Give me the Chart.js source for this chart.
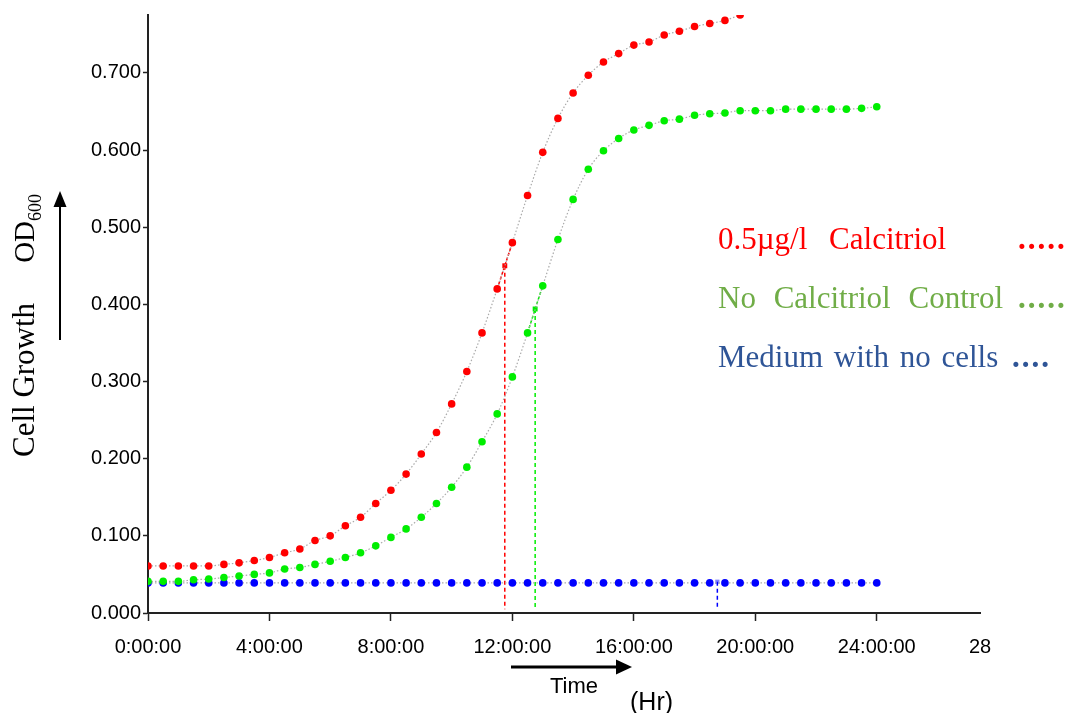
<!DOCTYPE html>
<html>
<head>
<meta charset="utf-8">
<script src="https://cdn.jsdelivr.net/npm/chart.js@4.4.1/dist/chart.umd.min.js"></script>
<style>
  body { margin: 0; background: #fff; }
  #wrap { position: relative; width: 1070px; height: 713px; }
  .lbl { position: absolute; white-space: nowrap; line-height: 30px; }
  .serif { font-family: "Liberation Serif", "Times New Roman", serif; font-size: 31px; }
  .sans { font-family: "Liberation Sans", Arial, sans-serif; }
  .dots { font-weight: bold; letter-spacing: 2px; }
</style>
</head>
<body>
<div id="wrap">
  <canvas id="chart" width="1070" height="713"></canvas>

  <div class="lbl serif" style="left:9px; top:457px; transform:rotate(-90deg); transform-origin:0 0;">
    Cell Growth<span style="margin-left:40px; font-size:29px">OD<sub style="font-size:18px">600</sub></span>
  </div>

  <div class="lbl serif" style="left:718px; top:224px; color:#ff0000; word-spacing:14px;">0.5µg/l Calcitriol</div>
  <div class="lbl serif dots" style="left:1018px; top:224px; color:#ff0000;">.....</div>
  <div class="lbl serif" style="left:718px; top:283px; color:#70ad47; word-spacing:10px;">No Calcitriol Control</div>
  <div class="lbl serif dots" style="left:1018px; top:283px; color:#70ad47;">.....</div>
  <div class="lbl serif" style="left:718px; top:342px; color:#2f5597; word-spacing:3px;">Medium with no cells</div>
  <div class="lbl serif dots" style="left:1012px; top:342px; color:#2f5597;">....</div>

  <div class="lbl sans" style="left:550px; top:671px; font-size:22px;">Time</div>
  <div class="lbl sans" style="left:630px; top:686px; font-size:25px;">(Hr)</div>
</div>

<script>
// time points (hours)
const hours = [0, 0.5, 1, 1.5, 2, 2.5, 3, 3.5, 4, 4.5, 5, 5.5, 6, 6.5, 7, 7.5, 8, 8.5, 9, 9.5,
  10, 10.5, 11, 11.5, 12, 12.5, 13, 13.5, 14, 14.5, 15, 15.5, 16, 16.5, 17, 17.5, 18, 18.5, 19, 19.5,
  20, 20.5, 21, 21.5, 22, 22.5, 23, 23.5, 24];

// OD600 readings
const calcitriolOD = [0.061, 0.061, 0.061, 0.061, 0.061, 0.063, 0.065, 0.068, 0.072, 0.078,
  0.083, 0.094, 0.100, 0.113, 0.124, 0.142, 0.159, 0.180, 0.206, 0.234,
  0.271, 0.313, 0.363, 0.420, 0.480, 0.541, 0.597, 0.641, 0.674, 0.697,
  0.714, 0.725, 0.736, 0.740, 0.749, 0.754, 0.760, 0.764, 0.768, 0.775];

const controlOD = [0.041, 0.041, 0.041, 0.043, 0.044, 0.046, 0.048, 0.050, 0.052, 0.057,
  0.059, 0.063, 0.067, 0.072, 0.078, 0.087, 0.098, 0.109, 0.124, 0.142,
  0.163, 0.189, 0.222, 0.258, 0.306, 0.363, 0.424, 0.484, 0.536, 0.575,
  0.599, 0.615, 0.626, 0.632, 0.638, 0.640, 0.645, 0.647, 0.648, 0.651,
  0.651, 0.651, 0.653, 0.653, 0.653, 0.653, 0.653, 0.654, 0.656];

const mediumOD = [0.039, 0.039, 0.039, 0.039, 0.039, 0.039, 0.039, 0.039, 0.039, 0.039,
  0.039, 0.039, 0.039, 0.039, 0.039, 0.039, 0.039, 0.039, 0.039, 0.039,
  0.039, 0.039, 0.039, 0.039, 0.039, 0.039, 0.039, 0.039, 0.039, 0.039,
  0.039, 0.039, 0.039, 0.039, 0.039, 0.039, 0.039, 0.039, 0.039, 0.039,
  0.039, 0.039, 0.039, 0.039, 0.039, 0.039, 0.039, 0.039, 0.039];

// half-max markers (time, OD)
const markerHours = [11.75, 12.75, 18.75];
const markerOD = [0.450, 0.394, 0.0405];
const markerColors = ["#ff0000", "#00ee00", "#0000ff"];

const xTickValues = [0, 4, 8, 12, 16, 20, 24, 27.4];
const xTickLabels = ["0:00:00", "4:00:00", "8:00:00", "12:00:00", "16:00:00", "20:00:00", "24:00:00", "28"];
const yTickValues = [0, 0.1, 0.2, 0.3, 0.4, 0.5, 0.6, 0.7];

const toPoints = (ys) => ys.map((y, i) => ({ x: hours[i], y: y }));

const seriesStyle = (color) => ({
  borderColor: "#aaaaaa",
  borderWidth: 1.2,
  borderDash: [1.5, 2],
  cubicInterpolationMode: "monotone",
  pointRadius: 3.8,
  pointHoverRadius: 3.8,
  pointBackgroundColor: color,
  pointBorderWidth: 0,
  showLine: true,
});

const datasets = [];

// drop lines from each marker down to the axis
markerHours.forEach((t, i) => {
  datasets.push({
    data: [{ x: t, y: markerOD[i] }, { x: t, y: 0.005 }],
    borderColor: markerColors[i],
    borderWidth: 1.5,
    borderDash: [4, 3],
    pointRadius: 0,
    showLine: true,
  });
});
// dashed link through the marker between neighbouring readings
const links = [
  [calcitriolOD, 23, 0],
  [controlOD, 25, 1],
];
links.forEach(([arr, idx, m]) => {
  datasets.push({
    data: [
      { x: hours[idx], y: arr[idx] },
      { x: markerHours[m], y: markerOD[m] },
      { x: hours[idx + 1], y: arr[idx + 1] },
    ],
    borderColor: markerColors[m],
    borderWidth: 1.5,
    borderDash: [3, 2],
    pointRadius: [0, 3.5, 0],
    pointStyle: "rect",
    pointBackgroundColor: markerColors[m],
    pointBorderWidth: 0,
    showLine: true,
  });
});
datasets.push({
  data: [{ x: markerHours[2], y: markerOD[2] }],
  pointStyle: "rect",
  pointRadius: 3,
  pointBackgroundColor: "rgba(80,80,255,0.7)",
  pointBorderWidth: 0,
  showLine: false,
});

// main series (first listed is drawn on top)
datasets.unshift(
  { label: "0.5µg/l Calcitriol", data: toPoints(calcitriolOD), ...seriesStyle("#ff0000") },
  { label: "No Calcitriol Control", data: toPoints(controlOD), ...seriesStyle("#00ee00") },
  { label: "Medium with no cells", data: toPoints(mediumOD), ...seriesStyle("#0000ff") }
);

// arrows beside the axis titles
const arrows = {
  id: "arrows",
  afterDraw(chart) {
    const c = chart.ctx;
    c.save();
    c.strokeStyle = "#000";
    c.fillStyle = "#000";
    c.lineWidth = 2;
    c.beginPath(); c.moveTo(60, 340); c.lineTo(60, 205); c.stroke();
    c.beginPath(); c.moveTo(60, 191); c.lineTo(53.5, 207); c.lineTo(66.5, 207); c.closePath(); c.fill();
    c.lineWidth = 3;
    c.beginPath(); c.moveTo(511, 667); c.lineTo(618, 667); c.stroke();
    c.beginPath(); c.moveTo(632, 667); c.lineTo(616, 659.5); c.lineTo(616, 674.5); c.closePath(); c.fill();
    c.restore();
  },
};

const tickFont = { family: "'Liberation Sans', Arial, sans-serif", size: 20 };

new Chart(document.getElementById("chart"), {
  type: "scatter",
  data: { datasets: datasets },
  options: {
    responsive: false,
    animation: false,
    events: [],
    layout: { padding: { top: 15, right: 90, left: 0, bottom: 0 } },
    plugins: { legend: { display: false }, tooltip: { enabled: false } },
    scales: {
      x: {
        type: "linear",
        min: 0,
        max: 27.4,
        afterBuildTicks: (s) => { s.ticks = xTickValues.map((v) => ({ value: v })); },
        afterFit: (s) => { s.height = 100; },
        ticks: {
          callback: (v, i) => xTickLabels[i],
          font: tickFont,
          color: "#000",
          padding: 14,
          maxRotation: 0,
          autoSkip: false,
        },
        grid: {
          drawOnChartArea: false,
          tickLength: 8,
          tickWidth: 1.5,
          tickColor: (ctx) => (ctx.index === xTickValues.length - 1 ? "rgba(0,0,0,0)" : "#222"),
        },
        border: { color: "#222", width: 2 },
      },
      y: {
        min: 0,
        max: 0.775,
        afterBuildTicks: (s) => { s.ticks = yTickValues.map((v) => ({ value: v })); },
        afterFit: (s) => { s.width = 148; },
        ticks: {
          callback: (v) => v.toFixed(3),
          font: tickFont,
          color: "#000",
          padding: 2,
        },
        grid: { drawOnChartArea: false, tickLength: 5, tickWidth: 1.5, tickColor: "#222" },
        border: { color: "#222", width: 2 },
      },
    },
  },
  plugins: [arrows],
});
</script>
</body>
</html>
